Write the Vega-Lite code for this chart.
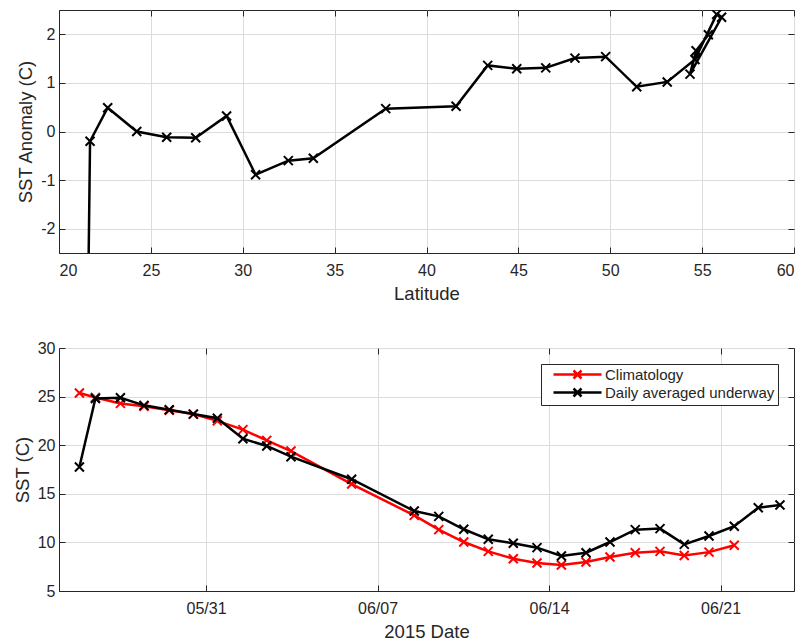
{
  "$schema": "https://vega.github.io/schema/vega-lite/v6.json",
  "padding": {"left": 12, "top": 9, "right": 5, "bottom": 5},
  "background": "white",
  "spacing": 36,
  "resolve": {"legend": {"color": "independent"}},
  "config": {
    "font": "Liberation Sans",
    "view": {"stroke": "#262626", "strokeWidth": 1},
    "axis": {
      "labelFont": "Liberation Sans", "titleFont": "Liberation Sans",
      "labelFontSize": 16, "titleFontSize": 18.5, "titleFontWeight": "normal",
      "labelColor": "#262626", "titleColor": "#262626",
      "domainColor": "#262626", "tickColor": "#262626",
      "gridColor": "#dcdcdc", "gridOpacity": 1, "gridWidth": 1,
      "tickSize": -6, "labelPadding": 15,
      "labelExpr": "datum.value < 0 ? '-' + abs(datum.value) : datum.label"
    },
    "axisY": {"labelPadding": 10, "titlePadding": 5},
    "axisX": {"titlePadding": 6},
    "legend": {
      "labelFont": "Liberation Sans", "labelFontSize": 15, "labelColor": "#262626",
      "strokeColor": "#262626", "fillColor": "white", "padding": 3,
      "orient": "top-right", "offset": 16, "rowPadding": -1, "labelLimit": 0,
      "symbolOffset": 26, "labelOffset": 20
    }
  },
  "datasets": {
    "anom": [
      {"i": 1, "lat": 21.45, "anom": -7.6},
      {"i": 2, "lat": 21.69, "anom": -0.2},
      {"i": 3, "lat": 22.65, "anom": 0.49},
      {"i": 4, "lat": 24.23, "anom": 0.0},
      {"i": 5, "lat": 25.86, "anom": -0.12},
      {"i": 6, "lat": 27.44, "anom": -0.13},
      {"i": 7, "lat": 29.12, "anom": 0.32},
      {"i": 8, "lat": 30.7, "anom": -0.89},
      {"i": 9, "lat": 32.48, "anom": -0.6},
      {"i": 10, "lat": 33.84, "anom": -0.55},
      {"i": 11, "lat": 37.78, "anom": 0.47},
      {"i": 12, "lat": 41.61, "anom": 0.52},
      {"i": 13, "lat": 43.33, "anom": 1.36},
      {"i": 14, "lat": 44.91, "anom": 1.29},
      {"i": 15, "lat": 46.49, "anom": 1.31},
      {"i": 16, "lat": 48.08, "anom": 1.51},
      {"i": 17, "lat": 49.75, "anom": 1.54},
      {"i": 18, "lat": 51.44, "anom": 0.92},
      {"i": 19, "lat": 53.1, "anom": 1.02},
      {"i": 20, "lat": 54.61, "anom": 1.48},
      {"i": 21, "lat": 55.79, "anom": 2.41},
      {"i": 22, "lat": 56.06, "anom": 2.35},
      {"i": 23, "lat": 54.34, "anom": 1.18},
      {"i": 24, "lat": 54.67, "anom": 1.66},
      {"i": 25, "lat": 55.34, "anom": 1.99}
    ],
    "sst": [
      {"date": "2015-05-25T20:00", "series": "Climatology", "sst": 25.37},
      {"date": "2015-05-26T11:40", "series": "Climatology", "sst": 24.9},
      {"date": "2015-05-27T12:10", "series": "Climatology", "sst": 24.3},
      {"date": "2015-05-28T11:15", "series": "Climatology", "sst": 24.0},
      {"date": "2015-05-29T12:00", "series": "Climatology", "sst": 23.6},
      {"date": "2015-05-30T11:35", "series": "Climatology", "sst": 23.2},
      {"date": "2015-05-31T11:05", "series": "Climatology", "sst": 22.5},
      {"date": "2015-06-01T12:10", "series": "Climatology", "sst": 21.6},
      {"date": "2015-06-02T11:30", "series": "Climatology", "sst": 20.5},
      {"date": "2015-06-03T11:15", "series": "Climatology", "sst": 19.4},
      {"date": "2015-06-05T22:40", "series": "Climatology", "sst": 16.0},
      {"date": "2015-06-08T12:00", "series": "Climatology", "sst": 12.78},
      {"date": "2015-06-09T12:00", "series": "Climatology", "sst": 11.31},
      {"date": "2015-06-10T12:30", "series": "Climatology", "sst": 10.04},
      {"date": "2015-06-11T12:30", "series": "Climatology", "sst": 9.08},
      {"date": "2015-06-12T13:00", "series": "Climatology", "sst": 8.32},
      {"date": "2015-06-13T12:15", "series": "Climatology", "sst": 7.88},
      {"date": "2015-06-14T12:10", "series": "Climatology", "sst": 7.67},
      {"date": "2015-06-15T12:15", "series": "Climatology", "sst": 7.98},
      {"date": "2015-06-16T11:45", "series": "Climatology", "sst": 8.5},
      {"date": "2015-06-17T12:30", "series": "Climatology", "sst": 8.94},
      {"date": "2015-06-18T12:45", "series": "Climatology", "sst": 9.08},
      {"date": "2015-06-19T12:30", "series": "Climatology", "sst": 8.66},
      {"date": "2015-06-20T12:45", "series": "Climatology", "sst": 9.0},
      {"date": "2015-06-21T13:30", "series": "Climatology", "sst": 9.7},
      {"date": "2015-05-25T20:00", "series": "Daily averaged underway", "sst": 17.76},
      {"date": "2015-05-26T11:40", "series": "Daily averaged underway", "sst": 24.8},
      {"date": "2015-05-27T12:10", "series": "Daily averaged underway", "sst": 24.88},
      {"date": "2015-05-28T11:15", "series": "Daily averaged underway", "sst": 24.1},
      {"date": "2015-05-29T12:00", "series": "Daily averaged underway", "sst": 23.65},
      {"date": "2015-05-30T11:35", "series": "Daily averaged underway", "sst": 23.2},
      {"date": "2015-05-31T11:05", "series": "Daily averaged underway", "sst": 22.77},
      {"date": "2015-06-01T12:10", "series": "Daily averaged underway", "sst": 20.67},
      {"date": "2015-06-02T11:30", "series": "Daily averaged underway", "sst": 19.92},
      {"date": "2015-06-03T11:15", "series": "Daily averaged underway", "sst": 18.82},
      {"date": "2015-06-05T22:40", "series": "Daily averaged underway", "sst": 16.5},
      {"date": "2015-06-08T12:00", "series": "Daily averaged underway", "sst": 13.23},
      {"date": "2015-06-09T12:00", "series": "Daily averaged underway", "sst": 12.68},
      {"date": "2015-06-10T12:30", "series": "Daily averaged underway", "sst": 11.35},
      {"date": "2015-06-11T12:30", "series": "Daily averaged underway", "sst": 10.32},
      {"date": "2015-06-12T13:00", "series": "Daily averaged underway", "sst": 9.91},
      {"date": "2015-06-13T12:15", "series": "Daily averaged underway", "sst": 9.46},
      {"date": "2015-06-14T12:10", "series": "Daily averaged underway", "sst": 8.6},
      {"date": "2015-06-15T12:15", "series": "Daily averaged underway", "sst": 8.94},
      {"date": "2015-06-16T11:45", "series": "Daily averaged underway", "sst": 10.04},
      {"date": "2015-06-17T12:30", "series": "Daily averaged underway", "sst": 11.31},
      {"date": "2015-06-18T12:45", "series": "Daily averaged underway", "sst": 11.42},
      {"date": "2015-06-19T12:30", "series": "Daily averaged underway", "sst": 9.8},
      {"date": "2015-06-20T12:45", "series": "Daily averaged underway", "sst": 10.66},
      {"date": "2015-06-21T13:30", "series": "Daily averaged underway", "sst": 11.66},
      {"date": "2015-06-22T13:00", "series": "Daily averaged underway", "sst": 13.57},
      {"date": "2015-06-23T10:15", "series": "Daily averaged underway", "sst": 13.85}
    ]
  },
  "vconcat": [
    {
      "width": 735,
      "height": 243,
      "data": {"name": "anom"},
      "layer": [
        {
          "mark": {"type": "line", "color": "black", "strokeWidth": 2.5, "clip": true},
          "encoding": {
            "x": {"field": "lat", "type": "quantitative", "scale": {"domain": [20, 60], "nice": false, "zero": false},
                  "axis": {"title": "Latitude", "values": [20, 25, 30, 35, 40, 45, 50, 55, 60]}},
            "y": {"field": "anom", "type": "quantitative", "scale": {"domain": [-2.5, 2.5], "nice": false, "zero": false},
                  "axis": {"title": "SST Anomaly (C)", "values": [-2, -1, 0, 1, 2]}},
            "order": {"field": "i", "type": "quantitative"}
          }
        },
        {
          "mark": {"type": "point", "shape": "M-1,-1L1,1M-1,1L1,-1", "filled": false, "color": "black", "strokeWidth": 2, "size": 81, "opacity": 1, "clip": true},
          "encoding": {
            "x": {"field": "lat", "type": "quantitative",
                  "axis": {"orient": "top", "labels": false, "title": null, "grid": false, "domain": false, "values": [20, 25, 30, 35, 40, 45, 50, 55, 60]}},
            "y": {"field": "anom", "type": "quantitative",
                  "axis": {"orient": "right", "labels": false, "title": null, "grid": false, "domain": false, "values": [-2, -1, 0, 1, 2]}}
          }
        }
      ],
      "resolve": {"axis": {"x": "independent", "y": "independent"}}
    },
    {
      "width": 735,
      "height": 243,
      "data": {"name": "sst"},
      "layer": [
        {
          "transform": [{"filter": "datum.series === 'Climatology'"}],
          "mark": {"type": "line", "strokeWidth": 2.5},
          "encoding": {
            "x": {"field": "date", "type": "temporal",
                  "scale": {"domain": [{"year": 2015, "month": 5, "date": 25}, {"year": 2015, "month": 6, "date": 24}], "nice": false},
                  "axis": {"title": "2015 Date", "format": "%m/%d",
                           "values": [{"year": 2015, "month": 5, "date": 31}, {"year": 2015, "month": 6, "date": 7}, {"year": 2015, "month": 6, "date": 14}, {"year": 2015, "month": 6, "date": 21}]}},
            "y": {"field": "sst", "type": "quantitative", "scale": {"domain": [5, 30], "nice": false, "zero": false},
                  "axis": {"title": "SST (C)", "values": [5, 10, 15, 20, 25, 30]}},
            "color": {"field": "series", "type": "nominal",
                      "scale": {"domain": ["Climatology", "Daily averaged underway"], "range": ["#ff0000", "#000000"]},
                      "legend": {"title": null, "symbolType": "M-4.8,0L4.8,0M-0.8,-0.8L0.8,0.8M-0.8,0.8L0.8,-0.8", "symbolSize": 100, "symbolStrokeWidth": 2.5}}
          }
        },
        {
          "transform": [{"filter": "datum.series === 'Climatology'"}],
          "mark": {"type": "point", "shape": "M-1,-1L1,1M-1,1L1,-1", "filled": false, "strokeWidth": 2, "size": 81, "opacity": 1},
          "encoding": {
            "x": {"field": "date", "type": "temporal",
                  "axis": {"orient": "top", "labels": false, "title": null, "grid": false, "domain": false,
                           "values": [{"year": 2015, "month": 5, "date": 31}, {"year": 2015, "month": 6, "date": 7}, {"year": 2015, "month": 6, "date": 14}, {"year": 2015, "month": 6, "date": 21}]}},
            "y": {"field": "sst", "type": "quantitative",
                  "axis": {"orient": "right", "labels": false, "title": null, "grid": false, "domain": false, "values": [5, 10, 15, 20, 25, 30]}},
            "color": {"field": "series", "type": "nominal"}
          }
        },
        {
          "transform": [{"filter": "datum.series !== 'Climatology'"}],
          "mark": {"type": "line", "strokeWidth": 2.5},
          "encoding": {
            "x": {"field": "date", "type": "temporal", "axis": null},
            "y": {"field": "sst", "type": "quantitative", "axis": null},
            "color": {"field": "series", "type": "nominal"}
          }
        },
        {
          "transform": [{"filter": "datum.series !== 'Climatology'"}],
          "mark": {"type": "point", "shape": "M-1,-1L1,1M-1,1L1,-1", "filled": false, "strokeWidth": 2, "size": 81, "opacity": 1},
          "encoding": {
            "x": {"field": "date", "type": "temporal", "axis": null},
            "y": {"field": "sst", "type": "quantitative", "axis": null},
            "color": {"field": "series", "type": "nominal"}
          }
        }
      ],
      "resolve": {"axis": {"x": "independent", "y": "independent"}}
    }
  ]
}
